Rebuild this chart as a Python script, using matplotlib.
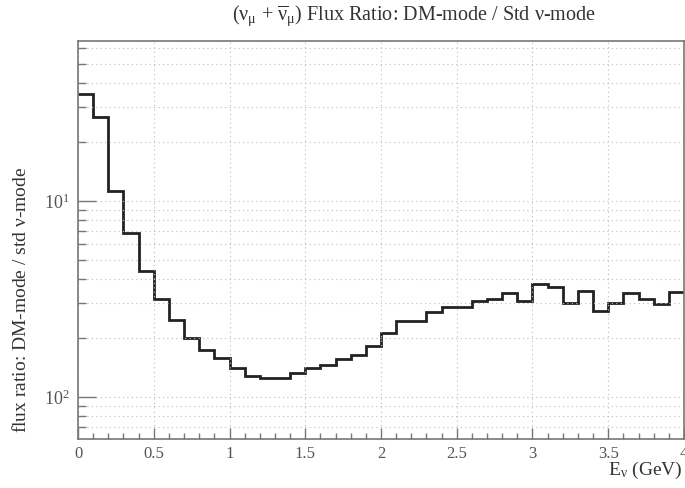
import matplotlib.pyplot as plt
import numpy as np
from matplotlib.ticker import FixedLocator, FixedFormatter, NullFormatter, MultipleLocator

plt.rcParams['font.family'] = ['Liberation Serif', 'DejaVu Serif']
plt.rcParams['mathtext.fontset'] = 'custom'
plt.rcParams['mathtext.rm'] = 'Liberation Serif'
plt.rcParams['mathtext.it'] = 'Liberation Serif:italic'

# flux ratio per 0.1 GeV bin, 0 - 4 GeV
bin_edges = np.linspace(0.0, 4.0, 41)
ratio = [35.0, 26.7, 11.3, 6.85, 4.41, 3.16, 2.47, 1.99, 1.74, 1.575,
         1.41, 1.285, 1.25, 1.25, 1.32, 1.41, 1.456, 1.556, 1.64, 1.81,
         2.13, 2.45, 2.45, 2.72, 2.86, 2.87, 3.07, 3.16, 3.40, 3.07,
         3.76, 3.66, 3.03, 3.47, 2.75, 3.01, 3.40, 3.16, 2.97, 3.42]

y_major = [1, 10]
y_major_labels = ['10$^{2}$', '10$^{1}$']
y_minor = [0.7, 0.8, 0.9, 2, 3, 4, 5, 6, 7, 8, 9, 20, 30, 40, 50, 60]
x_ticks = [0, 0.5, 1, 1.5, 2, 2.5, 3, 3.5, 4]
x_tick_labels = ['0', '0.5', '1', '1.5', '2', '2.5', '3', '3.5', '4']

fig = plt.figure(figsize=(6.85, 4.88), dpi=100)
ax = fig.add_axes([0.1139, 0.1004, 0.8846, 0.8156])

ax.stairs(ratio, bin_edges, color='#222222', linewidth=2.0, baseline=None)

ax.set_yscale('log')
ax.set_xlim(0, 4)
ax.set_ylim(0.61, 65.5)

ax.yaxis.set_major_locator(FixedLocator(y_major))
ax.yaxis.set_major_formatter(FixedFormatter(y_major_labels))
ax.yaxis.set_minor_locator(FixedLocator(y_minor))
ax.yaxis.set_minor_formatter(NullFormatter())
ax.xaxis.set_major_locator(FixedLocator(x_ticks))
ax.xaxis.set_major_formatter(FixedFormatter(x_tick_labels))
ax.xaxis.set_minor_locator(MultipleLocator(0.1))

ax.grid(True, which='major', axis='x', linestyle=(0, (1, 3)), color='#bbbbbb', linewidth=0.8)
ax.grid(True, which='both', axis='y', linestyle=(0, (1, 3)), color='#bbbbbb', linewidth=0.8)

for s in ax.spines.values():
    s.set_color('#777777')
    s.set_linewidth(1.2)

ax.tick_params(axis='y', which='major', direction='in', length=13, width=1.0, color='#777777',
               labelsize=13, labelcolor='#555555', pad=6)
ax.tick_params(axis='y', which='minor', direction='in', length=6, width=1.0, color='#777777')
ax.tick_params(axis='x', which='major', direction='in', length=8, width=1.0, color='#777777',
               labelsize=12, labelcolor='#555555', pad=5)
ax.tick_params(axis='x', which='minor', direction='in', length=4, width=1.0, color='#777777')

nu = r'\mathrm{\nu}'
fig.text(0.604, 0.967,
         r'($%s_{\mathrm{\mu}}$ + $\overline{%s}_{\mathrm{\mu}}$) Flux Ratio: DM-mode / Std $%s$-mode' % (nu, nu, nu),
         ha='center', va='center', fontsize=14.5, color='#333333')
fig.text(0.997, 0.035, r'E$_{%s}$ (GeV)' % nu, ha='right', va='center', fontsize=14, color='#333333')
fig.text(0.03, 0.385, r'flux ratio: DM-mode / std $%s$-mode' % nu, rotation=90,
         ha='center', va='center', fontsize=14, color='#333333')

fig.savefig('out.png', dpi=100)
